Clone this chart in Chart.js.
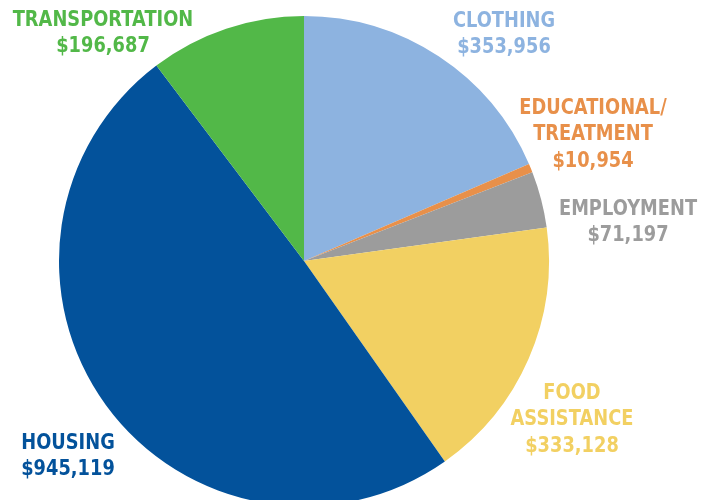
<!DOCTYPE html>
<html>
<head>
<meta charset="utf-8">
<script src="https://cdn.jsdelivr.net/npm/chart.js@4/dist/chart.umd.min.js"></script>
<style>
    html, body { margin: 0; padding: 0; background: #fff; overflow: hidden; }
    #wrap { width: 714px; height: 522px; position: relative; }
</style>
</head>
<body>
<div id="wrap"><canvas id="budgetChart"></canvas></div>
<script>
// categories, clockwise from 12 o'clock
const categories = ['Clothing', 'Educational/Treatment', 'Employment', 'Food Assistance', 'Housing', 'Transportation'];
const amounts = [353956, 10954, 71197, 333128, 945119, 196687];
const labelLines = [
    ['CLOTHING'],
    ['EDUCATIONAL/', 'TREATMENT'],
    ['EMPLOYMENT'],
    ['FOOD', 'ASSISTANCE'],
    ['HOUSING'],
    ['TRANSPORTATION']
];

const sliceColors = ['#8db3e0', '#e8904a', '#9c9c9c', '#f2d062', '#03529b', '#52b848'];

// where each label block sits (center x, y of first line)
const labelAnchors = [
    { x: 504, y: 21 },
    { x: 593, y: 108 },
    { x: 628, y: 209 },
    { x: 572, y: 393 },
    { x: 68, y: 443 },
    { x: 103, y: 20 }
];

function formatMoney(v) {
    return '$' + v.toLocaleString('en-US');
}

const outsideLabels = {
    id: 'outsideLabels',
    afterDraw(chart) {
        const ctx = chart.ctx;
        const data = chart.data.datasets[0].data;
        labelLines.forEach((lines, i) => {
            const a = labelAnchors[i];
            const all = lines.concat([formatMoney(data[i])]);
            all.forEach((t, j) => {
                ctx.save();
                ctx.font = 'bold 22px "DejaVu Sans"';
                ctx.textAlign = 'center';
                ctx.textBaseline = 'middle';
                ctx.fillStyle = sliceColors[i];
                // squeeze horizontally to mimic a condensed face
                ctx.translate(a.x, a.y + j * 26.5);
                ctx.scale(0.81, 1);
                ctx.fillText(t, 0, 0);
                ctx.restore();
            });
        });
    }
};

new Chart(document.getElementById('budgetChart'), {
    type: 'pie',
    data: {
        labels: categories,
        datasets: [{
            data: amounts,
            backgroundColor: sliceColors,
            borderWidth: 0
        }]
    },
    options: {
        responsive: true,
        maintainAspectRatio: false,
        animation: false,
        layout: { padding: { left: 59, right: 165, top: 16, bottom: 16 } },
        plugins: {
            legend: { display: false },
            tooltip: { enabled: false }
        }
    },
    plugins: [outsideLabels]
});
</script>
</body>
</html>
